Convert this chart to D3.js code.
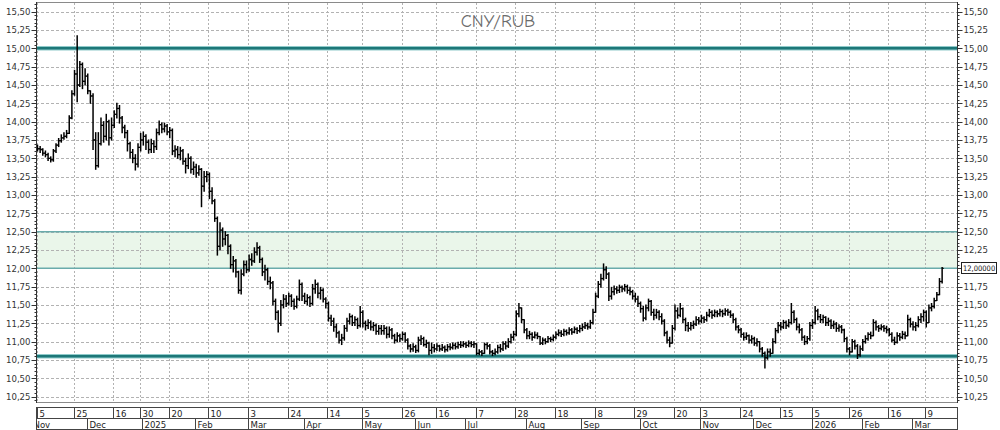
<!DOCTYPE html>
<html><head><meta charset="utf-8">
<script src="https://cdn.jsdelivr.net/npm/d3@7"></script>
<style>
html,body{margin:0;padding:0;background:#fff;}
svg{display:block;}
.ax text{font-family:"Liberation Sans Narrow","Arial Narrow","DejaVu Sans Condensed","Liberation Sans",sans-serif;}
</style></head><body>
<svg id="chart" width="1000" height="430"></svg>
<script>
const title = "CNY/RUB";
const startDate = "2024-11-05", endDate = "2026-03-17";
const holidays = ["2024-12-31","2025-01-01","2025-01-02","2025-01-07","2025-05-01","2025-05-02","2025-06-12","2025-06-13","2025-12-31","2026-01-01","2026-01-02","2026-01-07","2026-02-23"];

const opens = [13.65,13.63,13.62,13.57,13.55,13.50,13.48,13.60,13.68,13.74,
13.78,13.80,13.84,14.05,14.38,14.65,14.50,14.78,14.55,14.62,
14.42,14.35,13.75,13.40,13.70,13.95,13.80,14.00,13.78,13.95,
14.10,14.18,14.05,13.92,13.85,13.70,13.58,13.50,13.42,13.65,
13.75,13.80,13.72,13.62,13.70,13.66,13.85,13.96,13.90,13.94,
13.86,13.88,13.60,13.62,13.55,13.60,13.46,13.40,13.50,13.35,
13.38,13.30,13.35,13.12,13.25,13.28,13.05,12.92,12.68,12.30,
12.52,12.40,12.45,12.30,12.05,12.10,11.95,11.70,11.92,12.05,
11.98,12.12,12.10,12.22,12.28,12.12,11.95,11.98,11.82,11.80,
11.55,11.40,11.25,11.50,11.58,11.52,11.62,11.55,11.48,11.58,
11.78,11.62,11.55,11.60,11.52,11.72,11.78,11.66,11.70,11.58,
11.52,11.32,11.28,11.20,11.12,11.02,11.05,11.18,11.28,11.34,
11.26,11.30,11.22,11.40,11.25,11.22,11.26,11.20,11.22,11.14,
11.18,11.15,11.18,11.10,11.16,11.08,11.02,11.08,11.04,11.10,
11.02,10.94,10.90,10.93,10.88,11.02,11.04,10.96,10.98,10.88,
10.92,10.90,10.94,10.90,10.92,10.89,10.93,10.92,10.95,10.93,
10.96,10.95,10.97,10.95,10.98,10.96,10.97,10.84,10.86,10.84,
10.96,10.94,10.86,10.84,10.86,10.92,10.90,10.97,10.94,11.00,
11.06,11.10,11.38,11.46,11.30,11.16,11.08,11.10,11.06,11.09,
11.07,10.98,11.02,11.00,11.04,11.03,11.06,11.10,11.12,11.10,
11.14,11.12,11.16,11.13,11.17,11.15,11.18,11.20,11.22,11.20,
11.26,11.40,11.62,11.78,11.86,11.98,11.92,11.62,11.68,11.72,
11.70,11.74,11.72,11.75,11.70,11.68,11.62,11.58,11.52,11.45,
11.32,11.46,11.55,11.40,11.36,11.40,11.34,11.28,11.12,11.02,
10.98,11.18,11.42,11.36,11.45,11.30,11.22,11.18,11.22,11.24,
11.30,11.28,11.32,11.30,11.36,11.40,11.36,11.40,11.38,11.41,
11.38,11.42,11.40,11.36,11.30,11.20,11.16,11.10,11.06,11.08,
11.02,11.04,10.98,11.00,10.90,10.84,10.78,10.86,10.84,11.00,
11.15,11.22,11.20,11.26,11.22,11.26,11.40,11.30,11.20,11.16,
11.06,11.00,11.04,11.22,11.26,11.42,11.34,11.30,11.33,11.26,
11.28,11.22,11.24,11.18,11.20,11.16,11.04,10.90,10.86,11.00,
10.94,10.82,10.90,11.00,11.04,11.10,11.08,11.26,11.20,11.18,
11.20,11.18,11.16,11.10,11.02,10.99,11.08,11.06,11.10,11.08,
11.30,11.24,11.20,11.22,11.30,11.34,11.40,11.26,11.46,11.48,
11.56,11.64,11.82];

const highs = [13.68,13.66,13.63,13.60,13.57,13.52,13.62,13.70,13.77,13.82,
13.85,13.88,14.08,14.42,14.70,15.17,14.82,14.80,14.72,14.65,
14.42,14.38,13.85,13.85,14.05,14.00,14.10,14.02,14.05,14.15,
14.25,14.22,14.07,13.95,13.88,13.72,13.62,13.55,13.70,13.84,
13.86,13.82,13.75,13.76,13.74,13.90,14.01,13.98,13.98,13.96,
13.92,13.90,13.67,13.66,13.65,13.62,13.50,13.56,13.52,13.45,
13.42,13.40,13.36,13.32,13.32,13.30,13.10,12.94,12.70,12.62,
12.55,12.50,12.46,12.32,12.16,12.12,11.96,11.98,12.10,12.10,
12.18,12.20,12.28,12.35,12.30,12.14,12.04,12.00,11.88,11.82,
11.58,11.42,11.56,11.64,11.63,11.66,11.64,11.58,11.62,11.84,
11.80,11.66,11.64,11.62,11.78,11.84,11.80,11.74,11.72,11.60,
11.54,11.36,11.32,11.24,11.14,11.10,11.22,11.32,11.38,11.36,
11.34,11.32,11.48,11.42,11.28,11.30,11.28,11.26,11.24,11.22,
11.22,11.22,11.20,11.20,11.18,11.10,11.12,11.10,11.13,11.12,
11.04,10.96,10.97,10.95,11.06,11.08,11.06,11.02,10.99,10.98,
10.96,10.97,10.95,10.96,10.94,10.96,10.97,10.98,10.98,10.99,
11.00,11.00,10.99,11.01,11.00,11.00,10.97,10.89,10.88,10.98,
10.98,10.96,10.88,10.90,10.95,10.96,11.00,11.00,11.04,11.10,
11.14,11.42,11.52,11.46,11.30,11.18,11.14,11.12,11.13,11.12,
11.07,11.05,11.04,11.07,11.06,11.09,11.13,11.16,11.15,11.17,
11.16,11.19,11.18,11.20,11.19,11.22,11.24,11.26,11.25,11.29,
11.44,11.66,11.82,11.92,12.06,12.02,11.94,11.74,11.76,11.75,
11.77,11.76,11.78,11.77,11.74,11.70,11.66,11.62,11.54,11.48,
11.50,11.58,11.56,11.44,11.44,11.42,11.38,11.30,11.14,11.06,
11.22,11.50,11.46,11.52,11.46,11.32,11.26,11.26,11.28,11.34,
11.33,11.36,11.34,11.40,11.44,11.42,11.43,11.42,11.44,11.43,
11.45,11.44,11.42,11.38,11.32,11.22,11.18,11.12,11.12,11.09,
11.08,11.06,11.04,11.00,10.92,10.86,10.90,10.90,11.04,11.18,
11.26,11.26,11.29,11.28,11.30,11.52,11.42,11.32,11.24,11.18,
11.08,11.07,11.26,11.30,11.48,11.44,11.37,11.36,11.34,11.32,
11.30,11.28,11.26,11.23,11.22,11.17,11.06,10.92,11.03,11.02,
10.96,10.94,11.03,11.08,11.12,11.13,11.30,11.28,11.22,11.23,
11.22,11.21,11.18,11.12,11.06,11.12,11.11,11.14,11.13,11.36,
11.32,11.27,11.26,11.34,11.38,11.43,11.42,11.50,11.52,11.59,
11.67,11.86,12.01];

const lows = [13.60,13.58,13.54,13.52,13.47,13.45,13.46,13.58,13.66,13.72,
13.76,13.78,13.84,14.04,14.36,14.27,14.48,14.45,14.50,14.38,
14.25,13.62,13.35,13.38,13.68,13.72,13.75,13.68,13.75,13.92,
14.05,13.98,13.85,13.78,13.60,13.50,13.44,13.34,13.38,13.60,
13.68,13.62,13.57,13.58,13.58,13.62,13.82,13.85,13.86,13.82,
13.78,13.55,13.52,13.50,13.48,13.42,13.30,13.36,13.30,13.28,
13.24,13.27,12.84,13.05,13.18,12.95,12.88,12.64,12.18,12.25,
12.30,12.32,12.20,12.00,11.95,11.88,11.66,11.65,11.90,11.94,
11.96,12.04,12.08,12.18,12.08,11.90,11.84,11.78,11.72,11.50,
11.30,11.13,11.22,11.46,11.48,11.50,11.48,11.44,11.46,11.56,
11.56,11.52,11.50,11.48,11.50,11.66,11.60,11.58,11.54,11.46,
11.28,11.22,11.14,11.06,10.98,10.96,11.02,11.14,11.24,11.22,
11.22,11.18,11.20,11.20,11.16,11.18,11.16,11.15,11.10,11.10,
11.10,11.10,11.05,11.06,11.04,10.98,11.00,11.00,11.02,10.99,
10.90,10.86,10.87,10.85,10.86,10.96,10.94,10.92,10.82,10.84,
10.86,10.88,10.87,10.88,10.86,10.87,10.89,10.90,10.90,10.91,
10.92,10.93,10.92,10.93,10.93,10.92,10.82,10.82,10.81,10.84,
10.90,10.83,10.81,10.82,10.84,10.86,10.88,10.90,10.92,10.98,
11.02,11.08,11.34,11.26,11.12,11.04,11.04,11.02,11.05,11.04,
10.96,10.96,10.97,10.99,11.00,11.01,11.04,11.08,11.07,11.08,
11.09,11.10,11.10,11.12,11.11,11.13,11.15,11.18,11.17,11.18,
11.24,11.40,11.60,11.74,11.84,11.86,11.56,11.58,11.64,11.66,
11.67,11.68,11.69,11.66,11.64,11.58,11.54,11.48,11.40,11.28,
11.30,11.42,11.36,11.30,11.32,11.30,11.24,11.08,10.98,10.93,
10.98,11.16,11.32,11.34,11.26,11.15,11.14,11.16,11.18,11.22,
11.24,11.26,11.26,11.28,11.34,11.32,11.34,11.34,11.35,11.34,
11.36,11.36,11.33,11.26,11.16,11.12,11.06,11.02,11.03,10.98,
10.98,10.95,10.94,10.86,10.80,10.64,10.76,10.80,10.84,10.98,
11.12,11.16,11.18,11.18,11.20,11.24,11.26,11.16,11.12,11.02,
10.96,10.97,11.02,11.18,11.24,11.30,11.26,11.26,11.22,11.22,
11.18,11.18,11.14,11.14,11.12,11.00,10.86,10.82,10.86,10.90,
10.77,10.80,10.88,10.98,11.02,11.04,11.08,11.16,11.14,11.16,
11.14,11.12,11.08,11.00,10.96,10.98,11.02,11.04,11.04,11.08,
11.20,11.16,11.15,11.20,11.26,11.28,11.20,11.26,11.42,11.46,
11.56,11.64,11.80];

const closes = [13.63,13.62,13.57,13.55,13.50,13.48,13.60,13.68,13.74,13.78,
13.80,13.84,14.05,14.38,14.65,14.50,14.78,14.55,14.62,14.42,
14.35,13.75,13.40,13.70,13.95,13.80,14.00,13.78,13.95,14.10,
14.18,14.05,13.92,13.85,13.70,13.58,13.50,13.42,13.65,13.75,
13.80,13.72,13.62,13.70,13.66,13.85,13.96,13.90,13.94,13.86,
13.88,13.60,13.62,13.55,13.60,13.46,13.40,13.50,13.35,13.38,
13.30,13.35,13.12,13.25,13.28,13.05,12.92,12.68,12.30,12.52,
12.40,12.45,12.30,12.05,12.10,11.95,11.70,11.92,12.05,11.98,
12.12,12.10,12.22,12.28,12.12,11.95,11.98,11.82,11.80,11.55,
11.40,11.25,11.50,11.58,11.52,11.62,11.55,11.48,11.58,11.78,
11.62,11.55,11.60,11.52,11.72,11.78,11.66,11.70,11.58,11.52,
11.32,11.28,11.20,11.12,11.02,11.05,11.18,11.28,11.34,11.26,
11.30,11.22,11.40,11.25,11.22,11.26,11.20,11.22,11.14,11.18,
11.15,11.18,11.10,11.16,11.08,11.02,11.08,11.04,11.10,11.02,
10.94,10.90,10.93,10.88,11.02,11.04,10.96,10.98,10.88,10.92,
10.90,10.94,10.90,10.92,10.89,10.93,10.92,10.95,10.93,10.96,
10.95,10.97,10.95,10.98,10.96,10.97,10.84,10.86,10.84,10.96,
10.94,10.86,10.84,10.86,10.92,10.90,10.97,10.94,11.00,11.06,
11.10,11.38,11.46,11.30,11.16,11.08,11.10,11.06,11.09,11.07,
10.98,11.02,11.00,11.04,11.03,11.06,11.10,11.12,11.10,11.14,
11.12,11.16,11.13,11.17,11.15,11.18,11.20,11.22,11.20,11.26,
11.40,11.62,11.78,11.86,11.98,11.92,11.62,11.68,11.72,11.70,
11.74,11.72,11.75,11.70,11.68,11.62,11.58,11.52,11.45,11.32,
11.46,11.55,11.40,11.36,11.40,11.34,11.28,11.12,11.02,10.98,
11.18,11.42,11.36,11.45,11.30,11.22,11.18,11.22,11.24,11.30,
11.28,11.32,11.30,11.36,11.40,11.36,11.40,11.38,11.41,11.38,
11.42,11.40,11.36,11.30,11.20,11.16,11.10,11.06,11.08,11.02,
11.04,10.98,11.00,10.90,10.84,10.78,10.86,10.84,11.00,11.15,
11.22,11.20,11.26,11.22,11.26,11.40,11.30,11.20,11.16,11.06,
11.00,11.04,11.22,11.26,11.42,11.34,11.30,11.33,11.26,11.28,
11.22,11.24,11.18,11.20,11.16,11.04,10.90,10.86,11.00,10.94,
10.82,10.90,11.00,11.04,11.10,11.08,11.26,11.20,11.18,11.20,
11.18,11.16,11.10,11.02,10.99,11.08,11.06,11.10,11.08,11.30,
11.24,11.20,11.22,11.30,11.34,11.40,11.26,11.46,11.48,11.56,
11.64,11.82,12.00];

const yTicks = [10.25,10.5,10.75,11,11.25,11.5,11.75,12,12.25,12.5,12.75,13,13.25,13.5,13.75,14,14.25,14.5,14.75,15,15.25,15.5];
const dayTicks = ["2024-11-05","2024-11-25","2024-12-16","2024-12-30","2025-01-20","2025-02-10","2025-03-03","2025-03-24","2025-04-14","2025-05-05","2025-05-26","2025-06-16","2025-07-07","2025-07-28","2025-08-18","2025-09-08","2025-09-29","2025-10-20","2025-11-03","2025-11-24","2025-12-15","2026-01-05","2026-01-26","2026-02-16","2026-03-09"];
const monthTicks = ["2024-11-01","2024-12-01","2025-01-01","2025-02-01","2025-03-01","2025-04-01","2025-05-01","2025-06-01","2025-07-01","2025-08-01","2025-09-01","2025-10-01","2025-11-01","2025-12-01","2026-01-01","2026-02-01","2026-03-01"];
const monthLabels = ["Nov","Dec","2025","Feb","Mar","Apr","May","Jun","Jul","Aug","Sep","Oct","Nov","Dec","2026","Feb","Mar"];
const levelLines = [15.00, 10.80];
const zoneBand = [12.00, 12.50];

// ---------- build ----------
const svg = d3.select("#chart");
const parse = d3.utcParse("%Y-%m-%d");
const fmt = d3.utcFormat("%Y-%m-%d");
const hol = new Set(holidays);
const isWd = d => { const w = d.getUTCDay(); return w > 0 && w < 6; };
const dates = d3.utcDays(parse(startDate), d3.utcDay.offset(parse(endDate), 1))
  .filter(d => isWd(d) && !hol.has(fmt(d)));
const n = Math.min(dates.length, opens.length, highs.length, lows.length, closes.length);
function idxOf(s) {
  const d = parse(s);
  if (d >= dates[0]) return d3.bisectLeft(dates, d);
  return -d3.utcDays(d, dates[0]).filter(isWd).length;
}

const L = 36, R = 958, T = 3, B = 403;
const x = d3.scaleLinear().domain([0, dates.length + 5]).range([37.5, R]);
const y = d3.scaleLinear().domain([10.163, 15.618]).range([B, T]);
const comma = v => d3.format(".2f")(v).replace(".", ",");
const last = closes[n - 1];

svg.append("defs").append("clipPath").attr("id", "plotclip")
  .append("rect").attr("x", L).attr("y", T).attr("width", R - L).attr("height", B - T);
svg.select("defs").append("clipPath").attr("id", "axclip")
  .append("rect").attr("x", L).attr("y", 405).attr("width", R - L).attr("height", 25);

const plot = svg.append("g").attr("clip-path", "url(#plotclip)");

// zone
plot.append("rect").attr("x", L).attr("width", R - L)
  .attr("y", y(zoneBand[1])).attr("height", y(zoneBand[0]) - y(zoneBand[1]))
  .attr("fill", "#eaf6ea");

// grid
plot.append("g").selectAll("line").data(yTicks).join("line")
  .attr("x1", L).attr("x2", R)
  .attr("y1", d => Math.round(y(d)) + 0.5).attr("y2", d => Math.round(y(d)) + 0.5)
  .attr("stroke", "#b2b2b2").attr("stroke-width", 1).attr("stroke-dasharray", "3,2");
plot.append("g").selectAll("line").data(dayTicks).join("line")
  .attr("x1", d => Math.round(x(idxOf(d))) - 0.5).attr("x2", d => Math.round(x(idxOf(d))) - 0.5)
  .attr("y1", T).attr("y2", B)
  .attr("stroke", "#b2b2b2").attr("stroke-width", 1).attr("stroke-dasharray", "2,2");

// zone borders
plot.append("g").selectAll("line").data(zoneBand).join("line")
  .attr("x1", L).attr("x2", R).attr("y1", d => y(d)).attr("y2", d => y(d))
  .attr("stroke", "#6aabab").attr("stroke-width", 1.5);

// level lines
const lv = plot.append("g");
lv.selectAll("line.h").data(levelLines).join("line").attr("class", "h")
  .attr("x1", L).attr("x2", R).attr("y1", d => y(d)).attr("y2", d => y(d))
  .attr("stroke", "#8fcaca").attr("stroke-width", 4.5);
lv.selectAll("line.c").data(levelLines).join("line").attr("class", "c")
  .attr("x1", L).attr("x2", R).attr("y1", d => y(d)).attr("y2", d => y(d))
  .attr("stroke", "#1d7778").attr("stroke-width", 2.6);

// bars
const bars = d3.range(n).map(i => ({i, o: opens[i], h: highs[i], l: lows[i], c: closes[i]}));
const bg = plot.append("g").attr("stroke", "#000");
bg.selectAll("line.v").data(bars).join("line").attr("class", "v")
  .attr("x1", d => x(d.i)).attr("x2", d => x(d.i))
  .attr("y1", d => y(Math.max(d.h, d.o, d.c)) - 0.5).attr("y2", d => y(Math.min(d.l, d.o, d.c)) + 0.5)
  .attr("stroke-width", 1.5);
bg.selectAll("line.o").data(bars).join("line").attr("class", "o")
  .attr("x1", d => x(d.i) - 1.6).attr("x2", d => x(d.i))
  .attr("y1", d => y(d.o)).attr("y2", d => y(d.o)).attr("stroke-width", 1.3);
bg.selectAll("line.c").data(bars).join("line").attr("class", "c")
  .attr("x1", d => x(d.i)).attr("x2", d => x(d.i) + 1.6)
  .attr("y1", d => y(d.c)).attr("y2", d => y(d.c)).attr("stroke-width", 1.3);

// title
svg.append("text").attr("x", 498).attr("y", 27).attr("text-anchor", "middle")
  .attr("font-family", "'Comic Sans MS','Comic Neue','Noto Sans',sans-serif")
  .attr("font-size", 18).attr("fill", "#6c6c6c").text(title);

// frame
svg.append("rect").attr("x", L + 0.5).attr("y", T - 0.5).attr("width", R - L - 1).attr("height", B - T)
  .attr("fill", "none").attr("stroke", "#8a8a8a");
svg.append("line").attr("x1", L + 0.5).attr("x2", L + 0.5).attr("y1", T - 1).attr("y2", B)
  .attr("stroke", "#333");
svg.append("line").attr("x1", R - 0.5).attr("x2", R - 0.5).attr("y1", T - 1).attr("y2", B)
  .attr("stroke", "#333");

// y axes ticks
const minor = d3.range(Math.round(10.20 * 20), Math.round(15.60 * 20) + 1).map(k => k / 20);
const ax = svg.append("g").attr("class", "ax");
[[L + 0.5, -1], [R - 0.5, 1]].forEach(([x0, dir]) => {
  ax.append("g").selectAll("line").data(minor).join("line")
    .attr("x1", x0).attr("x2", d => x0 + dir * (Math.abs(d * 4 - Math.round(d * 4)) < 1e-6 ? 5 : 2))
    .attr("y1", d => Math.round(y(d)) + 0.5).attr("y2", d => Math.round(y(d)) + 0.5)
    .attr("stroke", "#333").attr("stroke-width", 1);
  // on the right, the tick label hidden under the last-price box is left out
  const labs = dir < 0 ? yTicks : yTicks.filter(v => Math.abs(y(v) - y(last)) > 9);
  ax.append("g").selectAll("text").data(labs).join("text")
    .attr("x", x0 + dir * 6).attr("y", d => y(d)).attr("dy", "0.35em")
    .attr("text-anchor", dir < 0 ? "end" : "start")
    .attr("font-size", 9.5).attr("fill", "#333").text(comma);
});

// last price box
const lb = ax.append("g");
lb.append("rect").attr("x", 961.5).attr("y", Math.round(y(last)) - 5.5).attr("width", 35).attr("height", 11)
  .attr("fill", "#fff").attr("stroke", "#222");
lb.append("text").attr("x", 963).attr("y", y(last)).attr("dy", "0.35em")
  .attr("font-size", 7.5).attr("fill", "#111")
  .text(d3.format(".5f")(last).replace(".", ","));

// date axis
const dax = svg.append("g").attr("class", "ax");
dax.append("rect").attr("x", L + 0.5).attr("y", 407.5).attr("width", R - L - 1).attr("height", 11)
  .attr("fill", "#fff").attr("stroke", "#444");
dax.append("rect").attr("x", L + 0.5).attr("y", 418.5).attr("width", R - L - 1).attr("height", 11)
  .attr("fill", "#fff").attr("stroke", "#444");
const dclip = dax.append("g").attr("clip-path", "url(#axclip)");
dclip.selectAll("line.d").data(dayTicks).join("line").attr("class", "d")
  .attr("x1", d => Math.round(x(idxOf(d))) - 0.5).attr("x2", d => Math.round(x(idxOf(d))) - 0.5)
  .attr("y1", 407.5).attr("y2", 418.5).attr("stroke", "#444");
dclip.selectAll("text.d").data(dayTicks).join("text").attr("class", "d")
  .attr("x", d => Math.round(x(idxOf(d))) + 1.5).attr("y", 417)
  .attr("font-size", 9.5).attr("fill", "#222").text(d => +d.slice(8));
dclip.selectAll("line.m").data(monthTicks).join("line").attr("class", "m")
  .attr("x1", d => Math.round(x(idxOf(d))) - 0.5).attr("x2", d => Math.round(x(idxOf(d))) - 0.5)
  .attr("y1", 418.5).attr("y2", 430).attr("stroke", "#444");
dclip.selectAll("text.m").data(monthTicks).join("text").attr("class", "m")
  .attr("x", d => Math.round(x(idxOf(d))) + 1.5).attr("y", 428)
  .attr("font-size", 9.5).attr("fill", "#222").text((d, i) => monthLabels[i]);
</script>
</body></html>
